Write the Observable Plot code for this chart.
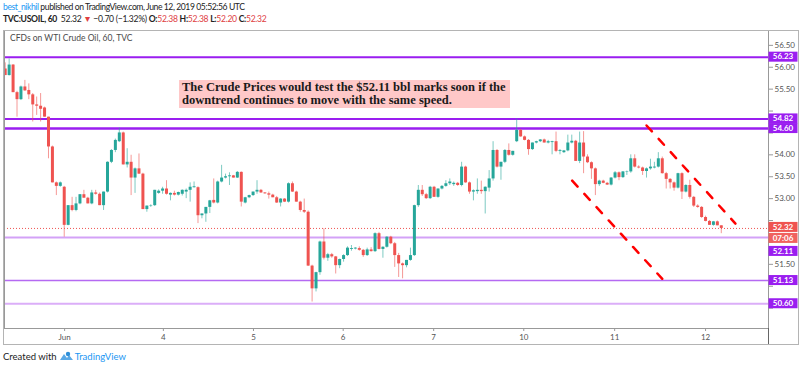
<!DOCTYPE html>
<html><head><meta charset="utf-8">
<script src="https://cdn.jsdelivr.net/npm/d3@7"></script>
<script src="https://cdn.jsdelivr.net/npm/@observablehq/plot@0.6"></script>
<style>
body{margin:0;width:800px;height:368px;position:relative;overflow:hidden;background:#fff;font-family:Lato,"Open Sans",sans-serif;color:#222;}
.hd{position:absolute;left:3px;white-space:nowrap;font-size:8.6px;}
#h1{top:2px;letter-spacing:-0.42px;} #h2{top:14px;letter-spacing:-0.3px;}
.blue{color:#2196f3;} .red{color:#e0403f;}
#chart{position:absolute;left:0;top:30px;}
#border{position:absolute;left:3px;top:30px;width:796px;height:315px;box-sizing:border-box;border:1px solid #b4b4b4;pointer-events:none;}
#vsep{position:absolute;left:768px;top:328px;width:1px;height:16px;background:#666;}
#sym{position:absolute;left:10px;top:33px;font-size:8.5px;color:#4a4a4a;white-space:nowrap;}
#note{position:absolute;left:179px;top:80px;width:331px;height:28px;background:#ffc8c8;box-sizing:border-box;padding:1px 0 0 3px;
 font-family:"Liberation Serif","Times New Roman",serif;font-weight:bold;font-size:12.5px;line-height:12.5px;color:#1a1a1a;white-space:nowrap;}
#foot{position:absolute;left:3px;top:351px;font-size:9.5px;white-space:nowrap;display:flex;align-items:center;}
#foot svg{margin:0 1px 0 2px;}
</style></head>
<body>
<div id="h1" class="hd"><span class="blue">best_nikhil</span> published on TradingView.com, June 12, 2019 05:52:56 UTC</div>
<div id="h2" class="hd"><b>TVC:USOIL, 60</b>&nbsp; 52.32 <span class="red">▼</span> −0.70 (−1.32%) <b>O:</b><span class="red">52.38</span> <b>H:</b><span class="red">52.38</span> <b>L:</b><span class="red">52.20</span> <b>C:</b><span class="red">52.32</span></div>
<div id="chart"></div>
<div id="border"></div>
<div id="vsep"></div>
<div id="sym">CFDs on WTI Crude Oil, 60, TVC</div>
<div id="note">The Crude Prices would test the $52.11 bbl marks soon if the<br>downtrend continues to move with the same speed.</div>
<div id="foot">Created with<svg width="15" height="11" viewBox="0 0 15 11"><path d="M1 9 L5 3 L8 7 L10 4 L14 9 Z" fill="#5aa9e6"/><circle cx="9" cy="3" r="2.2" fill="#2f8fd8"/></svg><span class="blue">TradingView</span></div>
<script>
// hourly candles, TVC:USOIL 60, May 31 – Jun 12 2019
const open  = [55.96,55.81,56.05,55.42,55.26,55.55,55.47,55.37,55.14,55.11,55.07,54.86,54.18,53.36,53.28,53.26,52.39,52.84,52.73,52.88,
53.09,53.01,52.88,53.13,53.10,52.84,53.15,53.83,54.10,54.30,54.50,53.77,53.83,53.47,53.68,53.56,52.75,52.83,52.84,53.12,
53.17,53.22,53.08,53.12,53.08,53.10,53.15,53.19,53.25,53.25,52.61,52.65,52.80,52.96,52.90,53.38,53.47,53.50,53.52,53.47,
53.60,52.90,53.02,53.07,53.15,53.19,53.13,53.11,53.08,53.02,52.90,52.99,52.92,53.34,53.15,52.92,52.73,52.69,51.46,50.94,
51.31,52.01,51.64,51.72,51.67,51.47,51.61,51.70,51.84,51.85,51.86,51.82,51.70,51.83,51.79,52.20,51.84,51.89,52.12,51.97,
51.70,51.51,51.47,51.59,51.70,52.84,53.19,53.09,53.00,53.26,53.03,53.22,53.28,53.34,53.32,53.35,53.30,53.72,53.36,53.15,
53.16,53.19,53.16,53.24,53.45,54.10,53.72,53.83,54.10,53.99,54.30,54.56,54.41,54.33,54.12,54.27,54.30,54.34,54.27,54.28,
54.30,54.08,54.05,54.09,54.27,54.31,53.85,54.27,53.95,53.82,53.68,53.32,53.40,53.35,53.31,53.47,53.59,53.48,53.60,53.61,
53.91,53.72,53.70,53.62,53.68,53.70,53.72,53.91,53.57,53.44,53.36,53.24,53.57,53.15,53.30,53.03,52.83,52.80,52.57,52.48,
52.39,52.47,52.38];
const high  = [56.10,56.19,56.06,55.45,55.57,55.70,55.62,55.40,55.32,55.40,55.09,54.86,54.20,53.38,53.38,53.28,52.84,53.03,53.03,53.09,
53.19,53.03,53.19,53.19,53.13,53.15,53.84,54.12,54.36,54.61,54.52,54.14,53.99,53.70,54.02,53.58,52.83,52.86,53.19,53.20,
53.26,53.41,53.13,53.17,53.15,53.20,53.22,53.36,53.38,53.27,52.65,52.80,52.96,53.45,53.40,53.76,53.56,53.59,53.53,53.62,
53.61,53.03,53.08,53.15,53.41,53.21,53.14,53.15,53.10,53.05,53.00,53.00,53.36,53.38,53.17,52.94,52.99,52.72,51.48,51.32,
52.03,52.31,51.75,51.75,51.68,51.62,51.72,51.90,51.93,51.88,51.90,51.84,51.87,51.88,52.22,52.23,51.90,52.13,52.14,52.00,
51.75,51.53,51.59,51.87,52.85,53.30,53.30,53.12,53.28,53.28,53.22,53.30,53.41,53.45,53.38,53.37,53.83,53.74,53.38,53.20,
53.45,53.40,53.27,53.64,54.30,54.12,53.83,54.12,54.25,54.08,54.82,54.58,54.43,54.35,54.27,54.31,54.35,54.36,54.33,54.31,
54.52,54.12,54.10,54.45,54.45,54.33,54.52,54.53,54.00,53.84,53.70,53.42,53.42,53.37,53.48,53.62,53.61,53.62,53.63,54.00,
54.00,53.75,53.72,53.70,53.90,53.83,54.05,53.95,53.60,53.46,53.38,53.58,53.59,53.32,53.42,53.05,52.86,52.82,52.60,52.50,
52.48,52.49,52.38];
const low   = [55.81,55.80,55.42,54.86,55.24,55.45,55.26,54.75,54.90,54.75,54.86,53.91,53.36,53.07,53.26,52.12,52.38,52.70,52.70,52.86,
53.01,52.88,52.86,53.08,52.84,52.73,53.13,53.80,54.05,54.28,53.77,53.70,53.07,53.12,53.55,52.75,52.69,52.80,52.82,53.10,
53.10,53.08,52.95,53.06,53.06,53.06,53.00,52.92,53.24,52.43,52.54,52.46,52.66,52.88,52.88,53.36,53.45,53.30,53.47,53.46,
52.81,52.88,53.00,53.05,53.10,53.12,53.10,52.99,53.02,52.89,52.81,52.91,52.90,53.14,52.92,52.69,52.66,51.45,50.64,50.87,
51.25,51.60,51.57,51.64,51.28,51.40,51.55,51.68,51.80,51.83,51.80,51.66,51.68,51.78,51.77,51.83,51.64,51.87,51.95,51.43,
51.20,51.17,51.42,51.57,51.68,52.80,53.05,52.98,52.98,53.03,53.01,53.20,53.26,53.30,53.28,53.28,53.27,53.35,53.10,52.95,
53.10,53.10,52.65,53.15,53.40,53.70,53.42,53.80,53.97,53.97,54.28,54.40,54.32,53.99,54.10,54.25,54.28,54.27,54.25,54.00,
54.05,54.00,54.03,54.07,54.25,53.85,53.80,53.57,53.80,53.44,53.07,53.28,53.34,53.30,53.29,53.45,53.41,53.46,53.53,53.58,
53.70,53.68,53.53,53.47,53.65,53.68,53.70,53.56,53.22,53.22,53.17,53.22,52.98,53.13,52.99,52.80,52.78,52.55,52.47,52.39,
52.37,52.38,52.20];
const close = [55.81,56.05,55.42,55.26,55.55,55.46,55.37,55.14,55.11,55.04,54.86,54.18,53.36,53.28,53.36,52.39,52.84,52.73,52.88,53.09,
53.01,52.88,53.13,53.10,52.84,53.15,53.83,54.10,54.33,54.50,53.77,53.83,53.47,53.68,53.56,52.75,52.83,52.84,53.19,53.17,
53.22,53.10,53.12,53.08,53.14,53.19,53.19,53.26,53.27,52.61,52.65,52.80,52.95,52.90,53.38,53.47,53.50,53.52,53.47,53.60,
52.92,53.02,53.07,53.15,53.19,53.13,53.11,53.08,53.02,52.90,52.99,52.92,53.34,53.15,52.92,52.73,52.69,51.46,50.94,51.31,
52.01,51.64,51.72,51.67,51.47,51.61,51.70,51.87,51.86,51.87,51.82,51.70,51.83,51.79,52.20,51.84,51.89,52.12,51.97,51.70,
51.51,51.47,51.59,51.70,52.84,53.19,53.09,53.00,53.26,53.03,53.22,53.28,53.34,53.38,53.35,53.30,53.72,53.36,53.15,53.18,
53.19,53.16,53.26,53.45,54.10,53.72,53.83,54.10,53.99,54.08,54.56,54.41,54.33,54.12,54.27,54.30,54.34,54.27,54.30,54.30,
54.08,54.10,54.09,54.27,54.31,53.85,54.27,53.95,53.82,53.68,53.32,53.40,53.35,53.31,53.47,53.59,53.48,53.61,53.61,53.91,
53.72,53.70,53.62,53.68,53.72,53.72,53.91,53.57,53.44,53.36,53.24,53.57,53.15,53.30,53.03,52.83,52.80,52.57,52.48,52.39,
52.47,52.38,52.32];

// x-axis day ticks (bar index positions) and labels
const xTickIdx    = [15.1, 40.2, 63.1, 85.9, 108.9, 131.8, 154.9, 178.0];
const xTickLabels = ["Jun", "4", "5", "6", "7", "10", "11", "12"];
// y-axis ticks
const yTicks = [50.5, 51, 51.5, 52, 52.5, 53, 53.5, 54, 54.5, 55, 55.5, 56, 56.5];

// horizontal levels drawn on chart
const levelPrices = [56.23, 54.82, 54.60, 52.11, 51.13, 50.60];
// current price and countdown
const lastPrice = 52.32;
const countdown = "07:06";

// parallel downtrend channel lines: [bar index, price]
const trendLowerIdx   = [144.1, 167.0];
const trendLowerPrice = [53.41, 51.17];
const trendUpperIdx   = [163.0, 185.6];
const trendUpperPrice = [54.67, 52.43];

// styles
const UP = "#26a69a", DOWN = "#ef5350", VIOLET = "#9a1ef0";
const levelStroke = ["#9a1ef0", "#9a1ef0", "#9a1ef0", "#d3a2f7", "#b56af2", "#dbaef8"];
const levelWidth  = [2, 2, 2.5, 2, 1.5, 2];
const boxX = 768.5, boxW = 29, boxH = 10;

const candles = open.map((o, i) => ({i, o, h: high[i], l: low[i], c: close[i]}));
const levels = levelPrices.map((p, k) => ({p, k}));
const trendLower = trendLowerIdx.map((x, k) => ({x, y: trendLowerPrice[k]}));
const trendUpper = trendUpperIdx.map((x, k) => ({x, y: trendUpperPrice[k]}));
const col = d => d.c >= d.o ? UP : DOWN;

const yDomain = [50.035, 56.839];
const plotH = 315, mTop = 0, mBottom = 17;
// pixel position helper matching the plot's y scale (used only to hide tick labels under price boxes)
const yPix = d3.scaleLinear(yDomain, [plotH - mBottom, mTop]);

function boxCenters() {
  const lastY = yPix(lastPrice);
  const centers = [lastY - 1, lastY + boxH];
  const lv = levelPrices.map(p => {
    let cy = yPix(p);
    if (Math.abs(cy - (lastY + boxH)) < boxH) cy = lastY + 2 * boxH + 3;
    return cy;
  });
  return {lastY, lv, all: centers.concat(lv)};
}
const bc = boxCenters();
const labelTicks = yTicks.filter(t => bc.all.every(cy => Math.abs(yPix(t) - cy) > boxH / 2 + 4));

const chart = Plot.plot({
  width: 800, height: plotH,
  marginLeft: 4, marginRight: 32, marginTop: mTop, marginBottom: mBottom,
  x: {type: "linear", domain: [-0.18, 194.0]},
  y: {domain: yDomain},
  color: {type: "identity"},
  style: {fontFamily: "Lato, sans-serif", fontSize: "8px", color: "#555", background: "transparent", overflow: "visible"},
  marks: [
    Plot.axisY({anchor: "right", ticks: yTicks, text: null, tickSize: 4, stroke: "#999"}),
    Plot.axisY({anchor: "right", ticks: labelTicks, tickFormat: d3.format(".2f"), tickSize: 0, tickPadding: 6, fontSize: 8, fill: "#555"}),
    Plot.axisX({anchor: "bottom", ticks: xTickIdx, tickFormat: d => xTickLabels[xTickIdx.indexOf(d)], tickSize: 3, tickPadding: 3, fontSize: 8, stroke: "#999", fill: "#555"}),
    Plot.ruleY(levels, {y: "p", stroke: d => levelStroke[d.k], strokeWidth: d => levelWidth[d.k]}),
    Plot.ruleY([lastPrice], {stroke: DOWN, strokeWidth: 1, strokeDasharray: "1,2"}),
    Plot.ruleX(candles, {x: "i", y1: "l", y2: "h", stroke: col, strokeOpacity: 0.6, strokeWidth: 1}),
    Plot.ruleX(candles, {x: "i", y1: d => Math.min(d.o, d.c), y2: d => Math.max(d.o, d.c), stroke: col, strokeWidth: 3}),
    Plot.line(trendLower, {x: "x", y: "y", stroke: "#ff0000", strokeWidth: 2.5, strokeDasharray: "8,10"}),
    Plot.line(trendUpper, {x: "x", y: "y", stroke: "#ff0000", strokeWidth: 2.5, strokeDasharray: "8,10"}),
    Plot.frame({stroke: "#999"})
  ]
});
document.getElementById("chart").append(chart);

// price labels in right scale area, positioned through the plot's y scale
const ys = chart.scale("y");
const svg = d3.select(chart);
function priceBox(cy, txt, fill) {
  const g = svg.append("g");
  g.append("rect").attr("x", boxX).attr("y", cy - boxH / 2).attr("width", boxW).attr("height", boxH).attr("fill", fill);
  g.append("text").attr("x", boxX + boxW / 2).attr("y", cy).attr("dy", "0.35em").attr("text-anchor", "middle")
    .attr("fill", "#fff").attr("font-size", 8).attr("font-weight", "bold").attr("font-family", "Lato, sans-serif").text(txt);
}
const lastY = ys.apply(lastPrice);
levelPrices.forEach(p => {
  let cy = ys.apply(p);
  if (Math.abs(cy - (lastY + boxH)) < boxH) cy = lastY + 2 * boxH + 3;
  priceBox(cy, p.toFixed(2), VIOLET);
});
priceBox(lastY - 1, lastPrice.toFixed(2), DOWN);
priceBox(lastY + boxH, countdown, "#f0625f");
</script>
</body></html>
